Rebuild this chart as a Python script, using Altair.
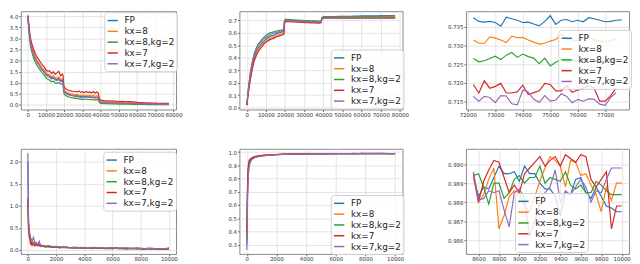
import altair as alt
import pandas as pd

NAMES = ["FP", "kx=8", "kx=8,kg=2", "kx=7", "kx=7,kg=2"]
COLORS = ["#1f77b4", "#ff7f0e", "#2ca02c", "#d62728", "#9467bd"]

# ---------- panel 1 / 2 : long run, x = iterations ----------
p12_x = [0, 500, 1000, 1500, 2000,
         3000, 4000, 5000, 6000, 7000, 8000, 9000, 10000, 11000, 12000, 13000, 14000, 15000, 16000, 17000, 18000, 19000,
         19400, 19600,
         20000, 21000, 22000, 23000, 24000, 25000, 26000, 27000, 28000, 29000, 30000, 31000, 32000, 33000, 34000, 35000, 36000, 37000, 38000,
         38800, 39200,
         40000, 42000, 44000, 46000, 48000, 50000, 52000, 54000, 56000, 58000, 60000, 62000, 64000, 66000, 68000, 70000, 72000, 74000, 76000, 77500]

p1_fp = [4.00, 3.55, 3.15, 2.85, 2.65,
         2.38, 2.15, 1.98, 1.85, 1.72, 1.60, 1.52, 1.40, 1.33, 1.30, 1.22, 1.26, 1.18, 1.15, 1.20, 1.10, 1.12,
         1.05, 0.80,
         0.62, 0.55, 0.50, 0.48, 0.45, 0.44, 0.41, 0.43, 0.40, 0.38, 0.40, 0.37, 0.39, 0.36, 0.38, 0.35, 0.37, 0.34, 0.36,
         0.33, 0.20,
         0.13, 0.12, 0.11, 0.10, 0.11, 0.09, 0.10, 0.08, 0.09, 0.08, 0.07, 0.07, 0.06, 0.06, 0.05, 0.05, 0.05, 0.04, 0.04, 0.04]
p1_kx8 = [4.02, 3.60, 3.20, 2.90, 2.70,
          2.42, 2.20, 2.02, 1.90, 1.78, 1.66, 1.58, 1.45, 1.40, 1.35, 1.28, 1.33, 1.24, 1.22, 1.27, 1.16, 1.18,
          1.10, 0.85,
          0.68, 0.60, 0.56, 0.52, 0.50, 0.49, 0.46, 0.48, 0.45, 0.43, 0.46, 0.42, 0.45, 0.41, 0.44, 0.40, 0.43, 0.39, 0.42,
          0.38, 0.22,
          0.15, 0.14, 0.13, 0.12, 0.12, 0.11, 0.11, 0.10, 0.10, 0.09, 0.08, 0.08, 0.07, 0.07, 0.06, 0.06, 0.06, 0.05, 0.05, 0.05]
p1_kx8kg2 = [3.98, 3.40, 2.95, 2.62, 2.45,
             2.15, 1.95, 1.78, 1.66, 1.55, 1.44, 1.36, 1.22, 1.16, 1.12, 1.05, 1.08, 1.00, 0.98, 1.02, 0.94, 0.96,
             0.90, 0.65,
             0.48, 0.42, 0.38, 0.35, 0.33, 0.32, 0.29, 0.31, 0.28, 0.26, 0.28, 0.25, 0.27, 0.24, 0.26, 0.23, 0.25, 0.22, 0.24,
             0.22, 0.12,
             0.07, 0.06, 0.06, 0.05, 0.05, 0.04, 0.05, 0.04, 0.04, 0.03, 0.03, 0.03, 0.03, 0.02, 0.02, 0.02, 0.02, 0.02, 0.02, 0.02]
p1_kx7 = [4.05, 3.70, 3.30, 3.00, 2.82,
          2.55, 2.35, 2.18, 2.05, 1.92, 1.80, 1.72, 1.58, 1.52, 1.55, 1.42, 1.50, 1.38, 1.45, 1.52, 1.32, 1.40,
          1.30, 1.00,
          0.80, 0.72, 0.68, 0.65, 0.63, 0.60, 0.62, 0.58, 0.63, 0.57, 0.60, 0.55, 0.62, 0.56, 0.59, 0.54, 0.61, 0.53, 0.60,
          0.52, 0.30,
          0.22, 0.20, 0.19, 0.18, 0.18, 0.16, 0.17, 0.15, 0.15, 0.14, 0.12, 0.11, 0.10, 0.10, 0.09, 0.09, 0.08, 0.08, 0.08, 0.08]
p1_kx7kg2 = [3.99, 3.50, 3.08, 2.78, 2.58,
             2.30, 2.08, 1.92, 1.79, 1.67, 1.56, 1.47, 1.35, 1.29, 1.25, 1.17, 1.21, 1.13, 1.10, 1.15, 1.06, 1.08,
             1.01, 0.76,
             0.58, 0.51, 0.47, 0.44, 0.42, 0.41, 0.38, 0.40, 0.37, 0.35, 0.37, 0.34, 0.36, 0.33, 0.35, 0.32, 0.34, 0.31, 0.33,
             0.30, 0.18,
             0.11, 0.10, 0.10, 0.09, 0.09, 0.08, 0.08, 0.07, 0.07, 0.06, 0.06, 0.05, 0.05, 0.05, 0.04, 0.04, 0.04, 0.04, 0.03, 0.03]

p2_fp = [0.02, 0.10, 0.16, 0.22, 0.27,
         0.35, 0.41, 0.45, 0.48, 0.50, 0.52, 0.535, 0.55, 0.56, 0.57, 0.575, 0.58, 0.59, 0.595, 0.60, 0.605, 0.61,
         0.615, 0.68,
         0.700, 0.702, 0.700, 0.699, 0.698, 0.697, 0.696, 0.695, 0.694, 0.693, 0.692, 0.692, 0.691, 0.690, 0.690, 0.689, 0.689, 0.688, 0.688,
         0.690, 0.720,
         0.728, 0.729, 0.730, 0.730, 0.731, 0.731, 0.732, 0.732, 0.733, 0.733, 0.735, 0.735, 0.736, 0.736, 0.736, 0.737, 0.737, 0.737, 0.737, 0.737]
p2_kx8 = [0.02, 0.09, 0.15, 0.20, 0.25,
          0.33, 0.39, 0.43, 0.46, 0.485, 0.505, 0.52, 0.535, 0.545, 0.555, 0.56, 0.565, 0.575, 0.58, 0.585, 0.59, 0.595,
          0.600, 0.67,
          0.695, 0.697, 0.695, 0.694, 0.693, 0.692, 0.691, 0.690, 0.689, 0.688, 0.687, 0.687, 0.686, 0.685, 0.685, 0.684, 0.684, 0.683, 0.683,
          0.685, 0.715,
          0.724, 0.725, 0.725, 0.726, 0.726, 0.727, 0.727, 0.728, 0.728, 0.728, 0.729, 0.729, 0.730, 0.730, 0.731, 0.731, 0.731, 0.731, 0.731, 0.732]
p2_kx8kg2 = [0.02, 0.11, 0.18, 0.24, 0.30,
             0.38, 0.44, 0.48, 0.51, 0.53, 0.55, 0.565, 0.58, 0.59, 0.60, 0.603, 0.607, 0.612, 0.615, 0.62, 0.622, 0.625,
             0.630, 0.69,
             0.708, 0.708, 0.706, 0.705, 0.704, 0.703, 0.702, 0.701, 0.700, 0.699, 0.698, 0.698, 0.697, 0.696, 0.696, 0.695, 0.695, 0.694, 0.694,
             0.696, 0.722,
             0.727, 0.727, 0.728, 0.727, 0.727, 0.728, 0.727, 0.727, 0.727, 0.727, 0.727, 0.727, 0.727, 0.727, 0.727, 0.727, 0.726, 0.726, 0.726, 0.726]
p2_kx7 = [0.02, 0.08, 0.14, 0.19, 0.24,
          0.32, 0.38, 0.42, 0.45, 0.47, 0.49, 0.51, 0.525, 0.535, 0.545, 0.55, 0.555, 0.565, 0.57, 0.575, 0.58, 0.585,
          0.590, 0.66,
          0.690, 0.692, 0.690, 0.689, 0.688, 0.687, 0.686, 0.685, 0.684, 0.683, 0.682, 0.682, 0.681, 0.680, 0.680, 0.679, 0.679, 0.678, 0.678,
          0.680, 0.708,
          0.716, 0.717, 0.717, 0.717, 0.718, 0.718, 0.718, 0.718, 0.718, 0.718, 0.718, 0.718, 0.718, 0.718, 0.718, 0.718, 0.718, 0.718, 0.718, 0.718]
p2_kx7kg2 = [0.02, 0.10, 0.17, 0.23, 0.29,
             0.37, 0.43, 0.47, 0.50, 0.52, 0.54, 0.555, 0.565, 0.575, 0.585, 0.59, 0.595, 0.60, 0.605, 0.61, 0.615, 0.62,
             0.625, 0.685,
             0.700, 0.700, 0.698, 0.697, 0.696, 0.695, 0.694, 0.693, 0.692, 0.691, 0.690, 0.690, 0.689, 0.688, 0.688, 0.687, 0.687, 0.686, 0.686,
             0.688, 0.712,
             0.718, 0.718, 0.718, 0.718, 0.717, 0.717, 0.717, 0.717, 0.717, 0.716, 0.716, 0.716, 0.716, 0.716, 0.716, 0.716, 0.716, 0.716, 0.716, 0.716]

# ---------- panel 3 : zoom of panel 2 tail ----------
p3_x_fp = [72200, 72400, 72600, 72800, 73000, 73200, 73400, 73600, 73800, 74000, 74200, 74400, 74600, 74800,
           75000, 75200, 75400, 75600, 75800, 76000, 76200, 76400, 76600, 76800, 77000, 77200, 77400, 77600]
p3_x = [72200, 72400, 72600, 72800, 73000, 73200, 73400, 73600, 73800, 74000, 74200, 74400, 74600, 74800,
        75000, 75200, 75400, 75600, 75800, 76000, 76200, 76400, 76600, 76800, 77000, 77200, 77400]
p3_fp = [0.7375, 0.7365, 0.7363, 0.7365, 0.7362, 0.7352, 0.7376, 0.7372, 0.7368, 0.7362, 0.7363, 0.7358, 0.7353, 0.7365,
         0.7380, 0.7357, 0.7368, 0.7370, 0.7364, 0.7368, 0.7364, 0.7375, 0.7372, 0.7368, 0.7364, 0.7365, 0.7368, 0.7369]
p3_kx8 = [0.7315, 0.7306, 0.7306, 0.7323, 0.7320, 0.7315, 0.7308, 0.7325, 0.7321, 0.7322, 0.7315, 0.7309, 0.7304, 0.7306,
          0.7312, 0.7316, 0.7330, 0.7318, 0.7315, 0.7312, 0.7318, 0.7325, 0.7315, 0.7312, 0.7310, 0.7312, 0.7318]
p3_kx8kg2 = [0.7265, 0.7256, 0.7259, 0.7265, 0.7271, 0.7262, 0.7274, 0.7281, 0.7268, 0.7277, 0.7270, 0.7266, 0.7251, 0.7266,
             0.7245, 0.7255, 0.7262, 0.7256, 0.7260, 0.7258, 0.7262, 0.7257, 0.7260, 0.7255, 0.7258, 0.7262, 0.7259]
p3_kx7 = [0.7195, 0.7172, 0.7205, 0.7185, 0.7190, 0.7198, 0.7172, 0.7172, 0.7175, 0.7193, 0.7168, 0.7173, 0.7178, 0.7198,
          0.7195, 0.7178, 0.7178, 0.7192, 0.7174, 0.7180, 0.7184, 0.7192, 0.7185, 0.7150, 0.7150, 0.7165, 0.7185]
p3_kx7kg2 = [0.7163, 0.7150, 0.7163, 0.7160, 0.7146, 0.7165, 0.7164, 0.7143, 0.7140, 0.7180, 0.7175, 0.7155, 0.7147, 0.7165,
             0.7150, 0.7153, 0.7170, 0.7163, 0.7146, 0.7155, 0.7150, 0.7156, 0.7155, 0.7142, 0.7139, 0.7160, 0.7173]

# ---------- panel 4 / 5 : short run ----------
p45_x = [0, 50, 100, 150, 200, 250, 300, 400, 500, 600, 700, 800, 900, 1000,
         1250, 1500, 1750, 2000, 2250, 2500, 2750, 3000, 3250, 3500, 3750, 4000, 4250, 4500, 4750, 5000,
         5250, 5500, 5750, 6000, 6250, 6500, 6750, 7000, 7250, 7500, 7750, 8000, 8250, 8500, 8750, 9000,
         9250, 9500, 9750, 10000]
p4_fp = [2.00, 0.62, 0.42, 0.33, 0.26, 0.22, 0.20, 0.17, 0.15, 0.13, 0.12, 0.14, 0.10, 0.09,
         0.08, 0.08, 0.07, 0.07, 0.06, 0.06, 0.06, 0.05, 0.06, 0.05, 0.05, 0.04, 0.05, 0.04, 0.05, 0.04,
         0.04, 0.04, 0.05, 0.03, 0.04, 0.04, 0.03, 0.04, 0.03, 0.03, 0.04, 0.03, 0.03, 0.03, 0.02, 0.03,
         0.03, 0.02, 0.03, 0.03]
p4_kx8 = [1.15, 0.55, 0.38, 0.30, 0.24, 0.21, 0.18, 0.16, 0.18, 0.12, 0.11, 0.10, 0.12, 0.08,
          0.09, 0.07, 0.08, 0.06, 0.07, 0.06, 0.05, 0.06, 0.05, 0.06, 0.04, 0.05, 0.04, 0.06, 0.04, 0.04,
          0.05, 0.04, 0.03, 0.04, 0.04, 0.03, 0.03, 0.04, 0.03, 0.04, 0.03, 0.03, 0.02, 0.03, 0.03, 0.03,
          0.02, 0.03, 0.02, 0.03]
p4_kx8kg2 = [1.10, 0.50, 0.35, 0.28, 0.22, 0.19, 0.17, 0.14, 0.13, 0.11, 0.10, 0.09, 0.09, 0.08,
             0.07, 0.07, 0.06, 0.06, 0.05, 0.06, 0.05, 0.05, 0.04, 0.05, 0.04, 0.04, 0.04, 0.03, 0.04, 0.03,
             0.04, 0.03, 0.03, 0.03, 0.04, 0.03, 0.03, 0.02, 0.03, 0.03, 0.02, 0.03, 0.02, 0.02, 0.03, 0.02,
             0.02, 0.02, 0.02, 0.02]
p4_kx7 = [1.18, 0.45, 0.30, 0.22, 0.12, 0.18, 0.10, 0.14, 0.09, 0.16, 0.10, 0.12, 0.08, 0.11,
          0.07, 0.09, 0.06, 0.08, 0.05, 0.07, 0.06, 0.05, 0.06, 0.04, 0.06, 0.05, 0.04, 0.05, 0.06, 0.04,
          0.05, 0.03, 0.05, 0.04, 0.04, 0.03, 0.05, 0.03, 0.04, 0.03, 0.04, 0.03, 0.02, 0.04, 0.03, 0.03,
          0.02, 0.03, 0.02, 0.04]
p4_kx7kg2 = [2.20, 0.70, 0.45, 0.35, 0.28, 0.24, 0.20, 0.29, 0.16, 0.14, 0.13, 0.20, 0.11, 0.10,
             0.09, 0.10, 0.07, 0.08, 0.07, 0.06, 0.07, 0.05, 0.06, 0.06, 0.05, 0.06, 0.04, 0.05, 0.05, 0.04,
             0.06, 0.04, 0.04, 0.05, 0.03, 0.04, 0.04, 0.05, 0.03, 0.04, 0.03, 0.04, 0.03, 0.03, 0.04, 0.03,
             0.02, 0.03, 0.03, 0.05]

p5_fp = [0.30, 0.72, 0.86, 0.91, 0.93, 0.94, 0.945, 0.955, 0.960, 0.963, 0.966, 0.968, 0.970, 0.972,
         0.975, 0.977, 0.979, 0.981, 0.982, 0.983, 0.984, 0.984, 0.985, 0.985, 0.986, 0.986, 0.986, 0.987, 0.987, 0.987,
         0.987, 0.988, 0.988, 0.988, 0.988, 0.988, 0.988, 0.989, 0.988, 0.989, 0.989, 0.989, 0.989, 0.989, 0.989, 0.989,
         0.989, 0.989, 0.989, 0.989]
p5_kx8 = [0.35, 0.75, 0.88, 0.92, 0.935, 0.945, 0.95, 0.958, 0.962, 0.966, 0.968, 0.970, 0.972, 0.974,
          0.977, 0.979, 0.980, 0.982, 0.983, 0.984, 0.985, 0.985, 0.986, 0.986, 0.986, 0.987, 0.987, 0.987, 0.988, 0.988,
          0.988, 0.988, 0.988, 0.989, 0.988, 0.989, 0.989, 0.989, 0.989, 0.989, 0.990, 0.989, 0.989, 0.989, 0.989, 0.990,
          0.989, 0.989, 0.989, 0.989]
p5_kx8kg2 = [0.33, 0.74, 0.87, 0.915, 0.932, 0.942, 0.948, 0.957, 0.961, 0.965, 0.967, 0.969, 0.971, 0.973,
             0.976, 0.978, 0.980, 0.981, 0.983, 0.984, 0.984, 0.985, 0.986, 0.986, 0.986, 0.987, 0.987, 0.987, 0.987, 0.988,
             0.988, 0.988, 0.988, 0.988, 0.989, 0.988, 0.989, 0.989, 0.989, 0.989, 0.989, 0.989, 0.989, 0.989, 0.989, 0.989,
             0.989, 0.989, 0.989, 0.988]
p5_kx7 = [0.40, 0.78, 0.90, 0.935, 0.945, 0.95, 0.953, 0.96, 0.965, 0.968, 0.970, 0.972, 0.974, 0.975,
          0.978, 0.980, 0.981, 0.982, 0.983, 0.984, 0.985, 0.985, 0.986, 0.986, 0.987, 0.987, 0.987, 0.988, 0.988, 0.988,
          0.988, 0.989, 0.988, 0.989, 0.989, 0.989, 0.989, 0.989, 0.990, 0.989, 0.990, 0.990, 0.990, 0.990, 0.990, 0.990,
          0.990, 0.989, 0.989, 0.989]
p5_kx7kg2 = [0.26, 0.65, 0.82, 0.88, 0.91, 0.925, 0.935, 0.948, 0.955, 0.960, 0.963, 0.966, 0.968, 0.970,
             0.973, 0.976, 0.978, 0.980, 0.981, 0.982, 0.983, 0.984, 0.985, 0.985, 0.986, 0.985, 0.986, 0.987, 0.986, 0.987,
             0.987, 0.988, 0.987, 0.988, 0.988, 0.988, 0.988, 0.989, 0.988, 0.988, 0.989, 0.989, 0.989, 0.988, 0.989, 0.989,
             0.989, 0.989, 0.989, 0.989]

# ---------- panel 6 : zoom of panel 5 tail ----------
p6_x = [8550, 8600, 8650, 8700, 8750, 8800, 8850, 8900, 8950, 9000, 9050, 9100, 9150, 9200, 9250,
        9300, 9350, 9400, 9450, 9500, 9550, 9600, 9650, 9700, 9750, 9800, 9850, 9900, 9950, 10000]
p6_fp = [0.9894, 0.9883, 0.9888, 0.9887, 0.9893, 0.9899, 0.9895, 0.9895, 0.9896, 0.9891, 0.9899, 0.9895, 0.9895, 0.9890, 0.9887,
         0.9887, 0.9883, 0.9873, 0.9885, 0.9884, 0.9892, 0.9893, 0.9885, 0.9882, 0.9888, 0.9883, 0.9878, 0.9877, 0.9875, 0.9875]
p6_kx8 = [0.9893, 0.9880, 0.9884, 0.9892, 0.9898, 0.9866, 0.9873, 0.9883, 0.9886, 0.9885, 0.9878, 0.9875, 0.9883, 0.9891, 0.9898,
          0.9904, 0.9902, 0.9899, 0.9888, 0.9902, 0.9901, 0.9894, 0.9895, 0.9889, 0.9884, 0.9875, 0.9888, 0.9881, 0.9890, 0.9890]
p6_kx8kg2 = [0.9894, 0.9895, 0.9888, 0.9879, 0.9890, 0.9890, 0.9882, 0.9885, 0.9892, 0.9894, 0.9890, 0.9893, 0.9893, 0.9899, 0.9890,
             0.9893, 0.9892, 0.9891, 0.9896, 0.9889, 0.9887, 0.9889, 0.9885, 0.9885, 0.9891, 0.9889, 0.9886, 0.9884, 0.9884, 0.9884]
p6_kx7 = [0.9895, 0.9880, 0.9891, 0.9897, 0.9902, 0.9901, 0.9893, 0.9885, 0.9889, 0.9885, 0.9895, 0.9898, 0.9901, 0.9904, 0.9899,
          0.9902, 0.9904, 0.9899, 0.9905, 0.9903, 0.9901, 0.9905, 0.9904, 0.9892, 0.9888, 0.9892, 0.9896, 0.9866, 0.9878, 0.9878]
p6_kx7kg2 = [0.9896, 0.9881, 0.9882, 0.9886, 0.9885, 0.9886, 0.9876, 0.9867, 0.9885, 0.9887, 0.9882, 0.9862, 0.9870, 0.9880, 0.9885,
             0.9888, 0.9897, 0.9880, 0.9886, 0.9884, 0.9888, 0.9892, 0.9888, 0.9880, 0.9886, 0.9885, 0.9892, 0.9898, 0.9898, 0.9898]

# ---------- tick labels ----------
ticks_x_long = [0, 10000, 20000, 30000, 40000, 50000, 60000, 70000, 80000]
ticks_x_p3 = [72000, 73000, 74000, 75000, 76000, 77000]
ticks_x_short = [0, 2000, 4000, 6000, 8000, 10000]
ticks_x_p6 = [8600, 8800, 9000, 9200, 9400, 9600, 9800, 10000]
ticks_y_p1 = [0.0, 0.5, 1.0, 1.5, 2.0, 2.5, 3.0, 3.5, 4.0]
ticks_y_p2 = [0.0, 0.1, 0.2, 0.3, 0.4, 0.5, 0.6, 0.7]
ticks_y_p3 = [0.715, 0.720, 0.725, 0.730, 0.735]
ticks_y_p4 = [0.0, 0.5, 1.0, 1.5, 2.0]
ticks_y_p5 = [0.3, 0.4, 0.5, 0.6, 0.7, 0.8, 0.9, 1.0]
ticks_y_p6 = [0.986, 0.987, 0.988, 0.989, 0.990]


def panel(xs, series, xdom, ydom, xticks, yticks, yfmt, lx, ly, w, h):
    rows = []
    for k, name in enumerate(NAMES):
        xv = xs[k] if isinstance(xs[0], list) else xs
        vals = series[k]
        if len(xv) != len(vals):
            raise ValueError(f"length mismatch {name}: {len(xv)} vs {len(vals)}")
        for i, (a, b) in enumerate(zip(xv, vals)):
            rows.append({"x": a, "y": b, "s": name, "i": i})
    df = pd.DataFrame(rows)
    return alt.Chart(df).mark_line(clip=True, strokeWidth=1.2).encode(
        x=alt.X("x:Q", scale=alt.Scale(domain=xdom, nice=False, zero=False),
                axis=alt.Axis(values=xticks, format="d", title=None)),
        y=alt.Y("y:Q", scale=alt.Scale(domain=ydom, nice=False, zero=False),
                axis=alt.Axis(values=yticks, format=yfmt, title=None)),
        color=alt.Color("s:N", scale=alt.Scale(domain=NAMES, range=COLORS),
                        legend=alt.Legend(title=None, orient="none", legendX=lx, legendY=ly)),
        order=alt.Order("i:Q"),
    ).properties(width=w, height=h)


W1 = 158
W = 166
H1 = 100
H2 = 107
p1 = panel(p12_x, [p1_fp, p1_kx8, p1_kx8kg2, p1_kx7, p1_kx7kg2], [-3875, 81375], [-0.2, 4.23],
           ticks_x_long, ticks_y_p1, ".1f", 85, 1, W1, H1)
p2 = panel(p12_x, [p2_fp, p2_kx8, p2_kx8kg2, p2_kx7, p2_kx7kg2], [-3875, 81375], [-0.015, 0.773],
           ticks_x_long, ticks_y_p2, ".1f", 93, 39, W, H1)
p3 = panel([p3_x_fp, p3_x, p3_x, p3_x, p3_x], [p3_fp, p3_kx8, p3_kx8kg2, p3_kx7, p3_kx7kg2],
           [71930, 77870], [0.71277, 0.73924], ticks_x_p3, ticks_y_p3, ".3f", 94, 19, W, H1)
p4 = panel(p45_x, [p4_fp, p4_kx8, p4_kx8kg2, p4_kx7, p4_kx7kg2], [-500, 10500], [-0.09, 2.30],
           ticks_x_short, ticks_y_p4, ".1f", 84, 3, W1, H2)
p5 = panel(p45_x, [p5_fp, p5_kx8, p5_kx8kg2, p5_kx7, p5_kx7kg2], [-500, 10500], [0.23, 1.025],
           ticks_x_short, ticks_y_p5, ".1f", 93, 47, W, H2)
p6 = panel(p6_x, [p6_fp, p6_kx8, p6_kx8kg2, p6_kx7, p6_kx7kg2], [8477, 10072], [0.98528, 0.99081],
           ticks_x_p6, ticks_y_p6, ".3f", 50, 45, W, H2)

chart = alt.concat(
    p1, p2, p3, p4, p5, p6, columns=3,
    spacing={"row": 40, "column": 64.5}, bounds="flush",
).resolve_legend(
    color="independent"
).properties(
    padding={"left": 0, "top": 0, "right": 0, "bottom": 0},
    background="white",
).configure_view(
    stroke="#888888", strokeWidth=1
).configure_axis(
    labelFont="DejaVu Sans", labelFontSize=5.5, labelColor="#333333",
    tickSize=2, tickColor="#666666", labelPadding=1,
    grid=True, gridColor="#dddddd", gridWidth=0.8, domain=False,
).configure_legend(
    labelFont="DejaVu Sans", labelFontSize=9, labelColor="#222222",
    symbolType="stroke", symbolSize=110, symbolStrokeWidth=1.5,
    rowPadding=0, padding=2.5, labelOffset=6,
    fillColor="rgba(255,255,255,0.8)", strokeColor="#d0d0d0", cornerRadius=3,
)

chart.save("out.html", embed_options={"renderer": "svg", "actions": False})
